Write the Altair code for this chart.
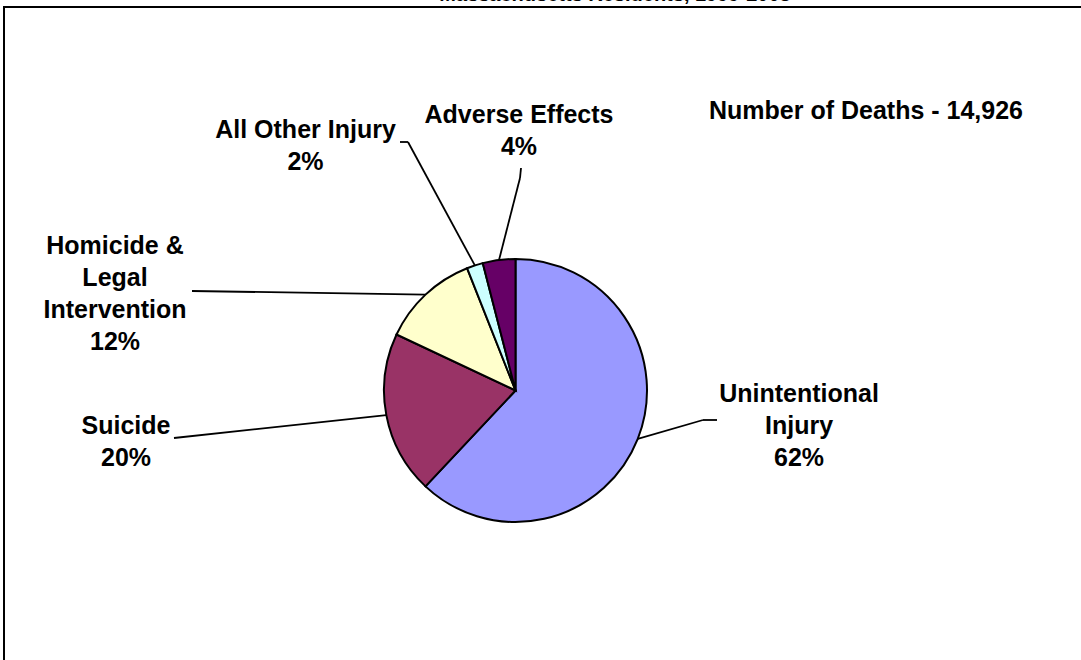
import altair as alt
import pandas as pd

# Injury deaths by intent (percent of all injury deaths)
categories = [
    "Unintentional\nInjury",
    "Suicide",
    "Homicide &\nLegal\nIntervention",
    "All Other Injury",
    "Adverse Effects",
]
percent = [62, 20, 12, 2, 4]
colors = ["#9999FF", "#993366", "#FFFFCC", "#CCFFFF", "#660066"]
deaths_total = 14926
title_text = "Massachusetts Residents, 1999-2003"

# Layout: label anchors (top of first line) and leader-line start / elbow points
label_x = [799, 126, 115, 305.5, 519]
label_y = [382, 414, 234, 118, 103]
lead_x = [717, 174, 192, 400, 521]
lead_y = [420, 438, 291, 142, 168]
elbow_x = [703, 174, 192, 408, 520]
elbow_y = [420, 438, 291, 142, 178]

CX, CY, R = 515.5, 390.5, 131.5
FONT = "Liberation Sans"
FS = 25

df = pd.DataFrame({
    "name": categories,
    "pct": percent,
    "rank": list(range(len(categories))),
    "lx": label_x, "ly": label_y,
    "sx": lead_x, "sy": lead_y,
    "kx": elbow_x, "ky": elbow_y,
})

one = pd.DataFrame({"k": [0]})

frame = alt.Chart(one).mark_rect(filled=False, stroke="black", strokeWidth=2).encode(
    x=alt.value(4), y=alt.value(7), x2=alt.value(1300), y2=alt.value(900)
)

title = alt.Chart(one).mark_text(
    text=title_text, font=FONT, fontSize=20, fontWeight="bold",
    align="center", baseline="alphabetic", color="black"
).encode(x=alt.value(615), y=alt.value(0.5))

base = alt.Chart(df).transform_window(
    cum="sum(pct)", sort=[alt.SortField("rank")], frame=[None, 0]
).transform_joinaggregate(total="sum(pct)").transform_calculate(
    mid="2*PI*(datum.cum - datum.pct/2)/datum.total",
).transform_calculate(
    ex=f"{CX} + {R}*sin(datum.mid)",
    ey=f"{CY} - {R}*cos(datum.mid)",
)

lead1 = base.mark_rule(color="black", strokeWidth=1.8).encode(
    x=alt.X("sx:Q", scale=None, axis=None),
    y=alt.Y("sy:Q", scale=None, axis=None),
    x2="kx:Q", y2="ky:Q",
)
lead2 = base.mark_rule(color="black", strokeWidth=1.8).encode(
    x=alt.X("kx:Q", scale=None, axis=None),
    y=alt.Y("ky:Q", scale=None, axis=None),
    x2="ex:Q", y2="ey:Q",
)

pie = alt.Chart(df).mark_arc(radius=R, stroke="black", strokeWidth=2).encode(
    theta=alt.Theta("pct:Q", stack=True),
    order=alt.Order("rank:Q"),
    color=alt.Color("name:N", scale=alt.Scale(domain=categories, range=colors), legend=None),
    x=alt.value(CX), y=alt.value(CY),
)

labels = alt.Chart(df).transform_calculate(
    label="datum.name + '\\n' + datum.pct + '%'"
).mark_text(
    font=FONT, fontSize=FS, fontWeight="bold", align="center", baseline="top",
    lineBreak="\n", lineHeight=32, color="black"
).encode(
    x=alt.X("lx:Q", scale=None, axis=None),
    y=alt.Y("ly:Q", scale=None, axis=None),
    text="label:N",
)

deaths = alt.Chart(one).mark_text(
    text=f"Number of Deaths - {deaths_total:,}", font=FONT, fontSize=FS,
    fontWeight="bold", align="center", baseline="top", color="black"
).encode(x=alt.value(866), y=alt.value(99))

chart = alt.layer(frame, title, lead1, lead2, pie, labels, deaths).properties(
    width=1081, height=660,
    autosize=alt.AutoSizeParams(type="none"),
    padding=0, background="white",
).configure_view(stroke=None)

chart.save("out.html", embed_options={"renderer": "svg", "actions": False})
